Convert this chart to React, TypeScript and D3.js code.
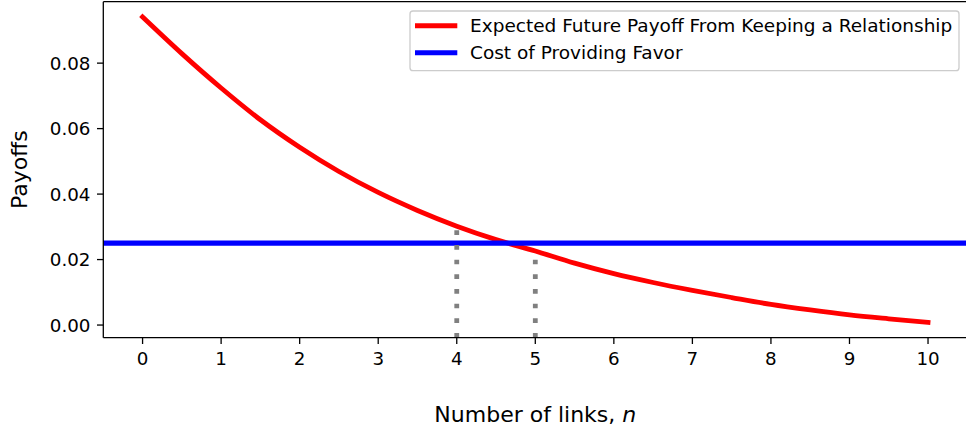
import { useEffect, useRef } from "react";
import * as d3 from "d3";

// number of links n and the expected future payoff
const linkCounts = [0, 0.5, 1, 1.5, 2, 2.5, 3, 3.5, 4, 4.5, 5, 5.5, 6, 6.5, 7, 7.5, 8, 8.5, 9, 9.5, 10];
const expectedPayoff = [
  0.0941, 0.0829, 0.0724, 0.0627, 0.0543, 0.0469, 0.0405, 0.035, 0.0302, 0.0261, 0.0226,
  0.0189, 0.0157, 0.013, 0.0106, 0.0084, 0.0063, 0.0046, 0.0031, 0.0019, 0.0008,
];
const favorCost = 0.025;
// the two dotted markers drop from the curve at these n
const markerLinks = [4, 5];
const markerPayoff = [0.0302, 0.0226];

const xTicks = [0, 1, 2, 3, 4, 5, 6, 7, 8, 9, 10];
const yTicks = [0, 0.02, 0.04, 0.06, 0.08];

const seriesLabels = ["Expected Future Payoff From Keeping a Relationship", "Cost of Providing Favor"];
const seriesColors = ["#ff0000", "#0000ff"];

const WIDTH = 966;
const HEIGHT = 432;
const FONT = "DejaVu Sans, sans-serif";

export default function App() {
  const svgRef = useRef<SVGSVGElement | null>(null);

  useEffect(() => {
    if (!svgRef.current) return;
    const svg = d3.select(svgRef.current);
    svg.selectAll("*").remove();

    const left = 103.3;
    const right = 967.3;
    const top = 1.7;
    const bottom = 337.7;

    // matplotlib style 5% margins
    const x = d3.scaleLinear().domain([-0.5, 10.5]).range([left, right]);
    const lo = Math.min(d3.min(expectedPayoff) as number, favorCost);
    const hi = Math.max(d3.max(expectedPayoff) as number, favorCost);
    const pad = (hi - lo) * 0.05;
    const y = d3.scaleLinear().domain([lo - pad, hi + pad]).range([bottom, top]);

    const pts = linkCounts.map((n, i) => [n, expectedPayoff[i]] as [number, number]);
    const line = d3
      .line<[number, number]>()
      .x((d) => x(d[0]))
      .y((d) => y(d[1]))
      .curve(d3.curveMonotoneX);

    const plot = svg.append("g");

    // red curve
    plot
      .append("path")
      .attr("d", line(pts))
      .attr("fill", "none")
      .attr("stroke", seriesColors[0])
      .attr("stroke-width", 4.8)
      .attr("stroke-linecap", "square");

    // blue horizontal cost line across the whole axes
    plot
      .append("line")
      .attr("x1", left)
      .attr("x2", right)
      .attr("y1", y(favorCost))
      .attr("y2", y(favorCost))
      .attr("stroke", seriesColors[1])
      .attr("stroke-width", 5.2);

    // dotted gray drops, drawn from the axes bottom upward
    plot
      .selectAll("line.drop")
      .data(markerLinks)
      .enter()
      .append("line")
      .attr("class", "drop")
      .attr("x1", (d) => x(d))
      .attr("x2", (d) => x(d))
      .attr("y1", bottom)
      .attr("y2", (_, i) => y(markerPayoff[i]))
      .attr("stroke", "#808080")
      .attr("stroke-width", 4.8)
      .attr("stroke-dasharray", "4.7 9.97");

    // spines
    const spines = svg.append("g").attr("stroke", "#000").attr("stroke-width", 1.3).attr("fill", "none");
    spines.append("line").attr("x1", left).attr("x2", left).attr("y1", top).attr("y2", bottom);
    spines.append("line").attr("x1", left).attr("x2", right).attr("y1", bottom).attr("y2", bottom);
    spines.append("line").attr("x1", left).attr("x2", right).attr("y1", top).attr("y2", top);

    // x ticks
    const xt = svg.append("g");
    xt.selectAll("line")
      .data(xTicks)
      .enter()
      .append("line")
      .attr("x1", (d) => x(d))
      .attr("x2", (d) => x(d))
      .attr("y1", bottom)
      .attr("y2", bottom + 6.3)
      .attr("stroke", "#000")
      .attr("stroke-width", 1.3);
    xt.selectAll("text")
      .data(xTicks)
      .enter()
      .append("text")
      .attr("x", (d) => x(d))
      .attr("y", 364.7)
      .attr("text-anchor", "middle")
      .attr("font-family", FONT)
      .attr("font-size", 18.3)
      .attr("fill", "#000")
      .text((d) => String(d));

    // y ticks
    const yt = svg.append("g");
    yt.selectAll("line")
      .data(yTicks)
      .enter()
      .append("line")
      .attr("x1", left - 6.3)
      .attr("x2", left)
      .attr("y1", (d) => y(d))
      .attr("y2", (d) => y(d))
      .attr("stroke", "#000")
      .attr("stroke-width", 1.3);
    yt.selectAll("text")
      .data(yTicks)
      .enter()
      .append("text")
      .attr("x", 90.5)
      .attr("y", (d) => y(d) + 6.6)
      .attr("text-anchor", "end")
      .attr("font-family", FONT)
      .attr("font-size", 18.3)
      .attr("fill", "#000")
      .text((d) => d3.format(".2f")(d));

    // axis labels
    const xl = svg
      .append("text")
      .attr("x", (left + right) / 2)
      .attr("y", 422)
      .attr("text-anchor", "middle")
      .attr("font-family", FONT)
      .attr("font-size", 22)
      .attr("fill", "#000");
    xl.append("tspan").text("Number of links, ");
    xl.append("tspan").attr("font-style", "italic").text("n");

    svg
      .append("text")
      .attr("transform", `translate(26.7,${(top + bottom) / 2}) rotate(-90)`)
      .attr("text-anchor", "middle")
      .attr("font-family", FONT)
      .attr("font-size", 22)
      .attr("fill", "#000")
      .text("Payoffs");

    // legend
    const lg = svg.append("g");
    lg.append("rect")
      .attr("x", 410)
      .attr("y", 11)
      .attr("width", 549)
      .attr("height", 59.7)
      .attr("rx", 3)
      .attr("fill", "#fff")
      .attr("fill-opacity", 0.8)
      .attr("stroke", "#cccccc")
      .attr("stroke-width", 1.3);
    const rows = lg
      .selectAll("g.row")
      .data(seriesLabels)
      .enter()
      .append("g")
      .attr("class", "row")
      .attr("transform", (_, i) => `translate(0,${25.7 + i * 27})`);
    rows
      .append("line")
      .attr("x1", 415)
      .attr("x2", 457.3)
      .attr("stroke", (_, i) => seriesColors[i])
      .attr("stroke-width", 5);
    rows
      .append("text")
      .attr("x", 470)
      .attr("y", 6.6)
      .attr("font-family", FONT)
      .attr("font-size", 18.5)
      .attr("fill", "#000")
      .text((d) => d);
  }, []);

  return (
    <svg
      ref={svgRef}
      width={WIDTH}
      height={HEIGHT}
      style={{ position: "absolute", left: 0, top: 0, background: "#fff" }}
    />
  );
}
